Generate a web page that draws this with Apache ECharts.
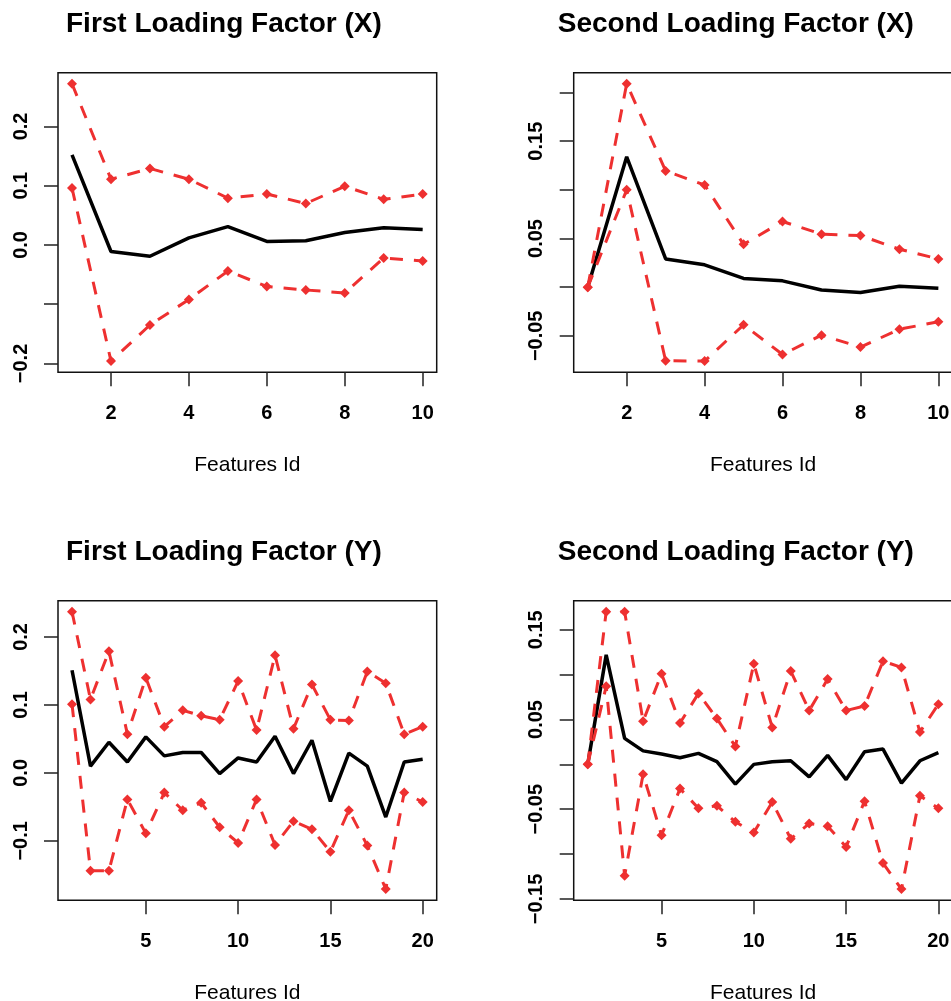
<!DOCTYPE html>
<html>
<head>
<meta charset="utf-8">
<script src="https://cdn.jsdelivr.net/npm/echarts@6/dist/echarts.min.js"></script>
<style>
html, body { margin: 0; padding: 0; overflow: hidden; background: #fff; }
#main { width: 951px; height: 1001px; }
</style>
</head>
<body>
<div id="main"></div>
<script>
"use strict";

// panel titles
var titles = ['First Loading Factor (X)', 'Second Loading Factor (X)',
              'First Loading Factor (Y)', 'Second Loading Factor (Y)'];
var xName = 'Features Id';

// tick values (ticks) and the ones that carry a label
var xTicks10 = [2, 4, 6, 8, 10];
var xTicks20 = [5, 10, 15, 20];
var yTicks1 = [-0.2, -0.1, 0, 0.1, 0.2];
var yLabels1 = [-0.2, 0, 0.1, 0.2];
var yTicks2 = [-0.05, 0, 0.05, 0.1, 0.15, 0.2];
var yLabels2 = [-0.05, 0.05, 0.15];
var yTicks3 = [-0.1, 0, 0.1, 0.2];
var yLabels3 = [-0.1, 0, 0.1, 0.2];
var yTicks4 = [-0.15, -0.1, -0.05, 0, 0.05, 0.1, 0.15];
var yLabels4 = [-0.15, -0.05, 0.05, 0.15];

// first loading factor (X)
var p1Mean  = [0.152, -0.011, -0.019, 0.012, 0.031, 0.006, 0.007, 0.021, 0.029, 0.026];
var p1Upper = [0.272, 0.111, 0.129, 0.111, 0.079, 0.086, 0.070, 0.099, 0.077, 0.086];
var p1Lower = [0.096, -0.196, -0.135, -0.092, -0.044, -0.070, -0.076, -0.081, -0.022, -0.027];

// second loading factor (X)
var p2Mean  = [0.000, 0.134, 0.029, 0.023, 0.009, 0.0065, -0.003, -0.0055, 0.001, -0.001];
var p2Upper = [0.000, 0.209, 0.1195, 0.105, 0.044, 0.0675, 0.0545, 0.053, 0.039, 0.029];
var p2Lower = [0.000, 0.100, -0.0757, -0.076, -0.0387, -0.0692, -0.0493, -0.0616, -0.0432, -0.0356];

// first loading factor (Y)
var p3Mean  = [0.151, 0.010, 0.045, 0.016, 0.053, 0.025, 0.030, 0.030, -0.001, 0.022,
               0.016, 0.054, -0.001, 0.048, -0.042, 0.029, 0.010, -0.065, 0.016, 0.020];
var p3Upper = [0.237, 0.108, 0.179, 0.057, 0.140, 0.068, 0.092, 0.084, 0.078, 0.135,
               0.063, 0.173, 0.065, 0.130, 0.078, 0.077, 0.149, 0.132, 0.057, 0.068];
var p3Lower = [0.101, -0.144, -0.144, -0.039, -0.089, -0.029, -0.055, -0.044, -0.080, -0.103,
               -0.039, -0.106, -0.071, -0.083, -0.116, -0.055, -0.107, -0.171, -0.029, -0.043];

// second loading factor (Y)
var p4Mean  = [0.000, 0.122, 0.029, 0.015, 0.0115, 0.0074, 0.0122, 0.003, -0.022, 0.000,
               0.003, 0.004, -0.014, 0.010, -0.017, 0.014, 0.017, -0.021, 0.004, 0.013];
var p4Upper = [0.000, 0.170, 0.170, 0.048, 0.101, 0.046, 0.079, 0.051, 0.020, 0.112,
               0.041, 0.104, 0.060, 0.095, 0.060, 0.065, 0.115, 0.108, 0.036, 0.067];
var p4Lower = [0.000, 0.087, -0.124, -0.011, -0.079, -0.027, -0.049, -0.046, -0.064, -0.076,
               -0.042, -0.083, -0.066, -0.069, -0.092, -0.041, -0.110, -0.139, -0.035, -0.049];

var panels = [
  { mean: p1Mean, upper: p1Upper, lower: p1Lower, xTicks: xTicks10, yTicks: yTicks1, yLabels: yLabels1, dec: 1 },
  { mean: p2Mean, upper: p2Upper, lower: p2Lower, xTicks: xTicks10, yTicks: yTicks2, yLabels: yLabels2, dec: 2 },
  { mean: p3Mean, upper: p3Upper, lower: p3Lower, xTicks: xTicks20, yTicks: yTicks3, yLabels: yLabels3, dec: 1 },
  { mean: p4Mean, upper: p4Upper, lower: p4Lower, xTicks: xTicks20, yTicks: yTicks4, yLabels: yLabels4, dec: 2 }
];

// layout of the 2x2 plot regions (px)
var boxes = [
  { left: 58,    top: 72.7 },
  { left: 573.7, top: 72.7 },
  { left: 58,    top: 600.7 },
  { left: 573.7, top: 600.7 }
];
var BOX_W = 378.7, BOX_H = 299.5;
var FONT = '"Liberation Sans", Arial, Helvetica, sans-serif';
var RED = '#EE3030';

/**
 * R-style range: data extent widened by 4% on both ends
 */
function rRange(lo, hi) {
  var pad = (hi - lo) * 0.04;
  return [lo - pad, hi + pad];
}

function toPairs(arr) {
  return arr.map(function (v, i) { return [i + 1, v]; });
}

function fmt(dec) {
  return function (v) {
    return (+v).toFixed(dec).replace('-', '\u2212');
  };
}

var option = {
  animation: false,
  backgroundColor: '#fff',
  title: [],
  grid: [],
  xAxis: [],
  yAxis: [],
  series: []
};

panels.forEach(function (p, i) {
  var b = boxes[i];
  var n = p.mean.length;
  var all = p.mean.concat(p.upper, p.lower);
  var xr = rRange(1, n);
  var yr = rRange(Math.min.apply(null, all), Math.max.apply(null, all));

  option.title.push({
    text: titles[i],
    left: b.left + (i % 2 ? -21 : 3),
    top: b.top - 67,
    textStyle: { fontFamily: FONT, fontSize: 28, fontWeight: 'bold', color: '#000' }
  });

  // fixed box, no shrinking to keep labels inside the page
  option.grid.push({
    left: b.left, top: b.top, width: BOX_W, height: BOX_H,
    outerBoundsMode: 'none', containLabel: false,
    show: true, borderColor: '#111', borderWidth: 1.5, backgroundColor: 'transparent'
  });

  option.xAxis.push({
    type: 'value', gridIndex: i, min: xr[0], max: xr[1],
    axisLine: { show: false, onZero: false },
    splitLine: { show: false },
    axisTick: { customValues: p.xTicks, length: 14, lineStyle: { color: '#222', width: 1.5 } },
    axisLabel: {
      customValues: p.xTicks, margin: 31, color: '#000',
      fontFamily: FONT, fontSize: 20, fontWeight: 'bold'
    },
    name: xName, nameLocation: 'middle', nameGap: 83,
    nameTextStyle: { fontFamily: FONT, fontSize: 21, color: '#000' }
  });

  option.yAxis.push({
    type: 'value', gridIndex: i, min: yr[0], max: yr[1],
    axisLine: { show: false, onZero: false },
    splitLine: { show: false },
    axisTick: { customValues: p.yTicks, length: 14, lineStyle: { color: '#222', width: 1.5 } },
    axisLabel: {
      customValues: p.yLabels, rotate: 90, margin: 27, color: '#000',
      fontFamily: FONT, fontSize: 20, fontWeight: 'bold', formatter: fmt(p.dec)
    }
  });

  option.series.push({
    type: 'line', xAxisIndex: i, yAxisIndex: i, data: toPairs(p.mean),
    showSymbol: false, lineStyle: { color: '#000', width: 3.5 }
  });
  [p.upper, p.lower].forEach(function (band) {
    option.series.push({
      type: 'line', xAxisIndex: i, yAxisIndex: i, data: toPairs(band),
      symbol: 'diamond', symbolSize: 10,
      itemStyle: { color: RED },
      lineStyle: { color: RED, width: 3, type: [13, 11] }
    });
  });
});

var chart = echarts.init(document.getElementById('main'), null, { renderer: 'canvas' });
chart.setOption(option);
</script>
</body>
</html>
